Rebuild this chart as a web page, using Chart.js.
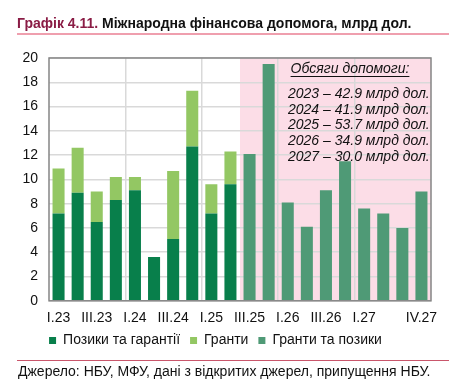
<!DOCTYPE html>
<html>
<head>
<meta charset="utf-8">
<script src="https://cdn.jsdelivr.net/npm/chart.js@4.4.1/dist/chart.umd.min.js"></script>
<style>
    html, body { margin: 0; padding: 0; background: #fff; }
    #wrap { width: 466px; height: 386px; position: relative; }
</style>
</head>
<body>
<div id="wrap"><canvas id="chart" width="466" height="386"></canvas></div>
<script>
'use strict';

// quarters I.23 .. IV.27
const quarters = ['I.23', 'II.23', 'III.23', 'IV.23', 'I.24', 'II.24', 'III.24', 'IV.24',
    'I.25', 'II.25', 'III.25', 'IV.25', 'I.26', 'II.26', 'III.26', 'IV.26',
    'I.27', 'II.27', 'III.27', 'IV.27'];
const shownTicks = ['I.23', 'III.23', 'I.24', 'III.24', 'I.25', 'III.25', 'I.26',
    'III.26', 'I.27', 'IV.27'];

const loans = [7.2, 8.9, 6.5, 8.3, 9.1, 3.6, 5.1, 12.7, 7.2, 9.6,
    null, null, null, null, null, null, null, null, null, null];
const grants = [3.7, 3.7, 2.5, 1.9, 1.1, 0, 5.6, 4.6, 2.4, 2.7,
    null, null, null, null, null, null, null, null, null, null];
const grantsAndLoans = [null, null, null, null, null, null, null, null, null, null,
    12.1, 19.5, 8.1, 6.1, 9.1, 11.5, 7.6, 7.2, 6.0, 9.0];

const seriesNames = ['Позики та гарантії', 'Гранти', 'Гранти та позики'];
const forecastFrom = 10; // III.25

const title1 = 'Графік 4.11.';
const title2 = ' Міжнародна фінансова допомога, млрд дол.';
const source = 'Джерело: НБУ, МФУ, дані з відкритих джерел, припущення НБУ.';
const noteHead = 'Обсяги допомоги:';
const noteLines = ['2023 – 42.9 млрд дол.', '2024 – 41.9 млрд дол.', '2025 – 53.7 млрд дол.',
    '2026 – 34.9 млрд дол.', '2027 – 30.0 млрд дол.'];

const FONT = '"Liberation Sans", Arial, sans-serif';

const decor = {
    id: 'decor',
    beforeDraw(chart) {
        const {ctx, chartArea: a, scales: {x}} = chart;
        ctx.save();
        ctx.fillStyle = '#fff';
        ctx.fillRect(0, 0, chart.width, chart.height);
        let left = (x.getPixelForValue(forecastFrom - 1) + x.getPixelForValue(forecastFrom)) / 2;
        ctx.fillStyle = '#fcdde7';
        ctx.fillRect(left, a.top, a.right - left, a.bottom - a.top);
        ctx.restore();
    },
    beforeDatasetsDraw(chart) {
        const {ctx, chartArea: a} = chart;
        ctx.save();
        ctx.strokeStyle = '#858585';
        ctx.lineWidth = 1.5;
        ctx.strokeRect(a.left, a.top, a.right - a.left, a.bottom - a.top);
        ctx.restore();
    },
    afterDraw(chart) {
        const ctx = chart.ctx;
        ctx.save();
        // title
        ctx.font = 'bold 14px ' + FONT;
        ctx.textBaseline = 'middle';
        ctx.fillStyle = '#8a1c45';
        ctx.fillText(title1, 17, 24);
        let w = ctx.measureText(title1).width;
        ctx.fillStyle = '#111';
        ctx.fillText(title2, 17 + w, 24);
        ctx.strokeStyle = '#e0405e';
        ctx.lineWidth = 1.2;
        ctx.beginPath();
        ctx.moveTo(17, 34);
        ctx.lineTo(449, 34);
        ctx.stroke();
        // source
        ctx.strokeStyle = '#c9566b';
        ctx.beginPath();
        ctx.moveTo(17, 360.5);
        ctx.lineTo(449, 360.5);
        ctx.stroke();
        ctx.font = '14px ' + FONT;
        ctx.fillStyle = '#111';
        ctx.fillText(source, 18, 372);
        // note
        ctx.font = 'italic 14px ' + FONT;
        ctx.textAlign = 'center';
        ctx.fillText(noteHead, 350, 69);
        let hw = ctx.measureText(noteHead).width;
        ctx.strokeStyle = '#111';
        ctx.lineWidth = 1;
        ctx.beginPath();
        ctx.moveTo(350 - hw / 2, 76.5);
        ctx.lineTo(350 + hw / 2, 76.5);
        ctx.stroke();
        ctx.textAlign = 'left';
        noteLines.forEach((t, i) => ctx.fillText(t, 288, 94 + i * 15.7));
        ctx.restore();
    },
};

const ctx = document.getElementById('chart').getContext('2d');
window.myBar = new Chart(ctx, {
    type: 'bar',
    data: {
        labels: quarters,
        datasets: [
            {label: seriesNames[0], data: loans, backgroundColor: '#087f4b'},
            {label: seriesNames[1], data: grants, backgroundColor: '#93c763'},
            {label: seriesNames[2], data: grantsAndLoans, backgroundColor: '#4f9a76'},
        ],
    },
    options: {
        responsive: false,
        animation: false,
        barPercentage: 0.63,
        categoryPercentage: 1,
        layout: {padding: {left: 0, right: 35, top: 58, bottom: 28.6}},
        plugins: {
            tooltip: {enabled: false},
            legend: {
                position: 'bottom',
                labels: {
                    boxWidth: 7,
                    boxHeight: 7,
                    padding: 10,
                    color: '#111',
                    font: {family: FONT, size: 14},
                },
            },
        },
        scales: {
            x: {
                stacked: true,
                grid: {
                    offset: true,
                    drawTicks: false,
                    lineWidth: 1.5,
                    color: c => (c.index % 4 === 0 && c.index > 0 && c.index < 20) ? '#d9d9d9' : 'rgba(0,0,0,0)',
                },
                border: {display: false},
                ticks: {
                    autoSkip: false,
                    maxRotation: 0,
                    padding: 8.5,
                    color: '#111',
                    font: {family: FONT, size: 14},
                    callback: function (v, i) {
                        let q = quarters[i];
                        return shownTicks.includes(q) ? q : '';
                    },
                },
                afterFit: s => { s.height = 22.6; },
            },
            y: {
                stacked: true,
                min: 0,
                max: 20,
                grid: {drawTicks: false, color: '#d9d9d9', lineWidth: 1.5},
                border: {display: false},
                ticks: {
                    stepSize: 2,
                    padding: 11,
                    color: '#111',
                    font: {family: FONT, size: 14},
                },
                afterFit: s => { s.width = 49; },
            },
        },
    },
    plugins: [decor],
});
</script>
</body>
</html>
